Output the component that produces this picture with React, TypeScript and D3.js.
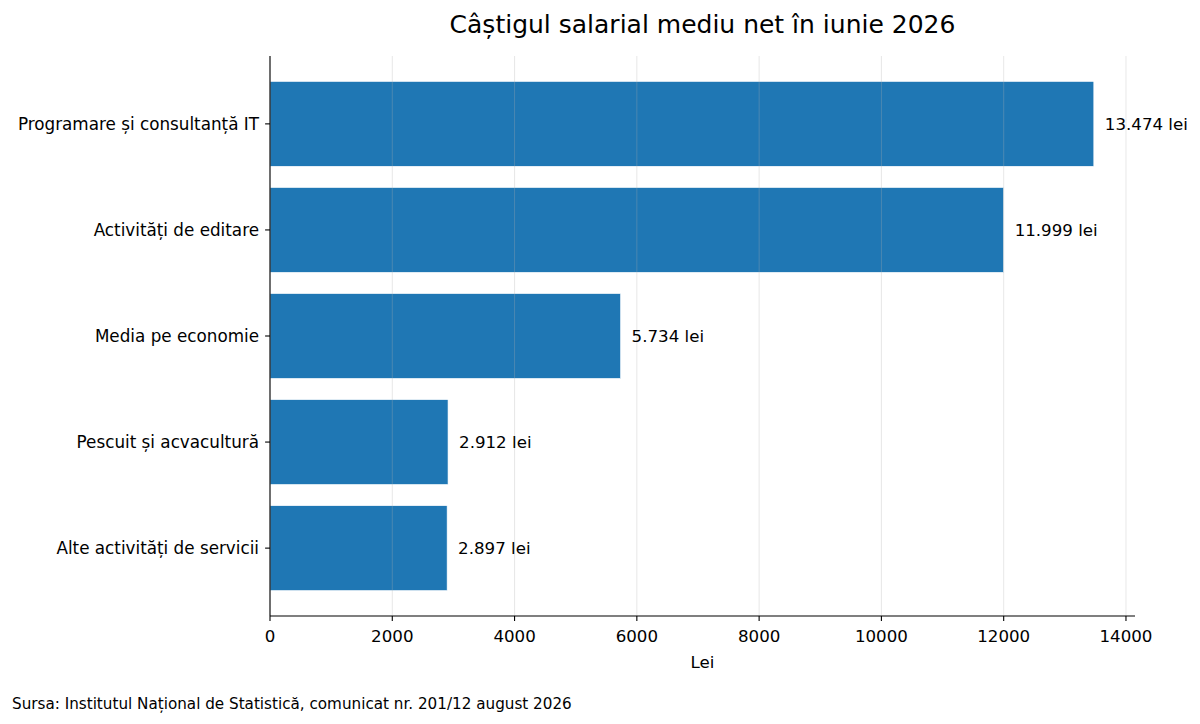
import React from 'react';
import * as d3 from 'd3';

const categories = [
  'Programare și consultanță IT',
  'Activități de editare',
  'Media pe economie',
  'Pescuit și acvacultură',
  'Alte activități de servicii',
];
const salaries = [13474, 11999, 5734, 2912, 2897];
const xTicks = [0, 2000, 4000, 6000, 8000, 10000, 12000, 14000];

const title = 'Câștigul salarial mediu net în iunie 2026';
const xLabel = 'Lei';
const source = 'Sursa: Institutul Național de Statistică, comunicat nr. 201/12 august 2026';

const W = 1200;
const H = 724;
const margin = { top: 56, right: 65, bottom: 108, left: 270 };
const font = '"DejaVu Sans", sans-serif';

const roLocale = d3.formatLocale({
  decimal: ',',
  thousands: '.',
  grouping: [3],
  currency: ['', ' lei'],
});
const fmt = roLocale.format(',d');

export default function App() {
  const innerW = W - margin.left - margin.right;
  const innerH = H - margin.top - margin.bottom;
  const xMax = d3.max(salaries)! * 1.05;

  const x = d3.scaleLinear().domain([0, xMax]).range([0, innerW]);
  const y = d3
    .scaleBand<string>()
    .domain(categories)
    .range([0, innerH])
    .paddingInner(0.2)
    .paddingOuter(0.24);

  return (
    <svg
      width={W}
      height={H}
      style={{ position: 'absolute', left: 0, top: 0, background: '#fff' }}
      fontFamily={font}
    >
      <text x={margin.left + innerW / 2} y={33} textAnchor="middle" fontSize={25} fill="#000">
        {title}
      </text>

      <g transform={`translate(${margin.left},${margin.top})`}>
        {/* bars */}
        {categories.map((c, i) => (
          <rect
            key={c}
            x={x(0)}
            y={y(c)}
            width={x(salaries[i]) - x(0)}
            height={y.bandwidth()}
            fill="#1f77b4"
            stroke="#fff"
            strokeWidth={0.6}
          />
        ))}

        {/* grid */}
        {xTicks.map((t) => (
          <line
            key={t}
            x1={x(t)}
            x2={x(t)}
            y1={0}
            y2={innerH}
            stroke="#b0b0b0"
            strokeOpacity={0.3}
            strokeWidth={1}
          />
        ))}

        {/* value labels */}
        {categories.map((c, i) => (
          <text
            key={c}
            x={x(salaries[i]) + 11}
            y={y(c)! + y.bandwidth() / 2}
            dy="0.35em"
            fontSize={16.67}
            fill="#000"
          >
            {fmt(salaries[i])} lei
          </text>
        ))}

        {/* y axis */}
        <line x1={0} x2={0} y1={0} y2={innerH} stroke="#000" strokeWidth={1.1} />
        {categories.map((c) => {
          const cy = y(c)! + y.bandwidth() / 2;
          return (
            <g key={c}>
              <line x1={-4.9} x2={0} y1={cy} y2={cy} stroke="#000" strokeWidth={1.1} />
              <text x={-11} y={cy} dy="0.35em" textAnchor="end" fontSize={16.8} fill="#000">
                {c}
              </text>
            </g>
          );
        })}

        {/* x axis */}
        <line x1={0} x2={innerW} y1={innerH} y2={innerH} stroke="#000" strokeWidth={1.1} />
        {xTicks.map((t) => (
          <g key={t} transform={`translate(${x(t)},${innerH})`}>
            <line y1={0} y2={4.9} stroke="#000" strokeWidth={1.1} />
            <text y={25.5} textAnchor="middle" fontSize={16.67} fill="#000">
              {t}
            </text>
          </g>
        ))}
        <text x={innerW / 2} y={innerH + 52} textAnchor="middle" fontSize={16.67} fill="#000">
          {xLabel}
        </text>
      </g>

      <text x={12} y={709} fontSize={15.2} fill="#000">
        {source}
      </text>
    </svg>
  );
}
